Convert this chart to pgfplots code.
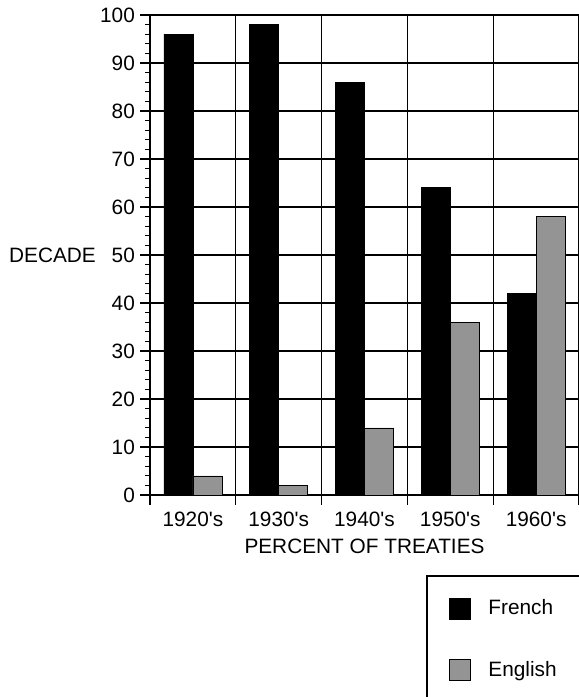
\documentclass[border=0pt]{standalone}
\usepackage{fontspec}
\setmainfont{Liberation Sans}
\usepackage{pgfplots}
\pgfplotsset{compat=1.18}

\pgfplotsset{
  sqleg/.style={legend image code/.code={
    \draw[##1, line width=0.7pt] (0bp,-10.5bp) rectangle (21bp,10.5bp);}},
}

\begin{document}
\fontsize{20.8bp}{24bp}\selectfont
\begin{tikzpicture}[font=\fontsize{20.8bp}{24bp}\selectfont]
\path[use as bounding box] (0,0) rectangle (579bp,697bp);
\clip (0,0) rectangle (579bp,697bp);
\begin{axis}[
    at={(150bp,202bp)}, anchor=south west,
    scale only axis, width=429bp, height=480bp,
    ymin=0, ymax=100, ytick distance=10, minor y tick num=4,
    xmin=-0.5, xmax=4.5,
    xtick={-0.5,0.5,1.5,2.5,3.5,4.5},
    xticklabels={1920\textquotesingle s,1930\textquotesingle s,1940\textquotesingle s,1950\textquotesingle s,1960\textquotesingle s,},
    x tick label style={xshift=42.9bp},
    y tick label style={xshift=2bp},
    xtick pos=lower, ytick pos=left,
    xmajorgrids, ymajorgrids,
    grid style={black, line width=1.3pt},
    axis line style={line width=1.6pt},
    tick style={black, line width=1.3pt},
    minor tick style={line width=0.9pt},
    tick align=outside,
    major tick length=10bp, minor tick length=5bp,
    ybar=0pt, bar width=29bp,
    /pgf/number format/assume math mode=true,
    xlabel={PERCENT OF TREATIES},
    ylabel={DECADE},
    every axis x label/.style={at={(axis description cs:0.5,0)}, anchor=north, yshift=-37bp},
    every axis y label/.style={at={(axis description cs:0,0.5)}, anchor=west, xshift=-148bp},
    legend style={at={(axis description cs:0.6434,-0.1667)}, anchor=north west,
        draw=black, line width=1.5pt, inner xsep=22bp, inner ysep=22bp,
        row sep=39bp, column sep=16bp},
    legend cell align=left,
]
\addplot[fill=black, draw=black, line width=0.6pt, sqleg]
    coordinates {(0,96) (1,98) (2,86) (3,64) (4,42)};
\addplot[fill=black!42, draw=black, line width=0.6pt, sqleg]
    coordinates {(0,4) (1,2) (2,14) (3,36) (4,58)};
\legend{French, English}
\end{axis}
\end{tikzpicture}
\end{document}
